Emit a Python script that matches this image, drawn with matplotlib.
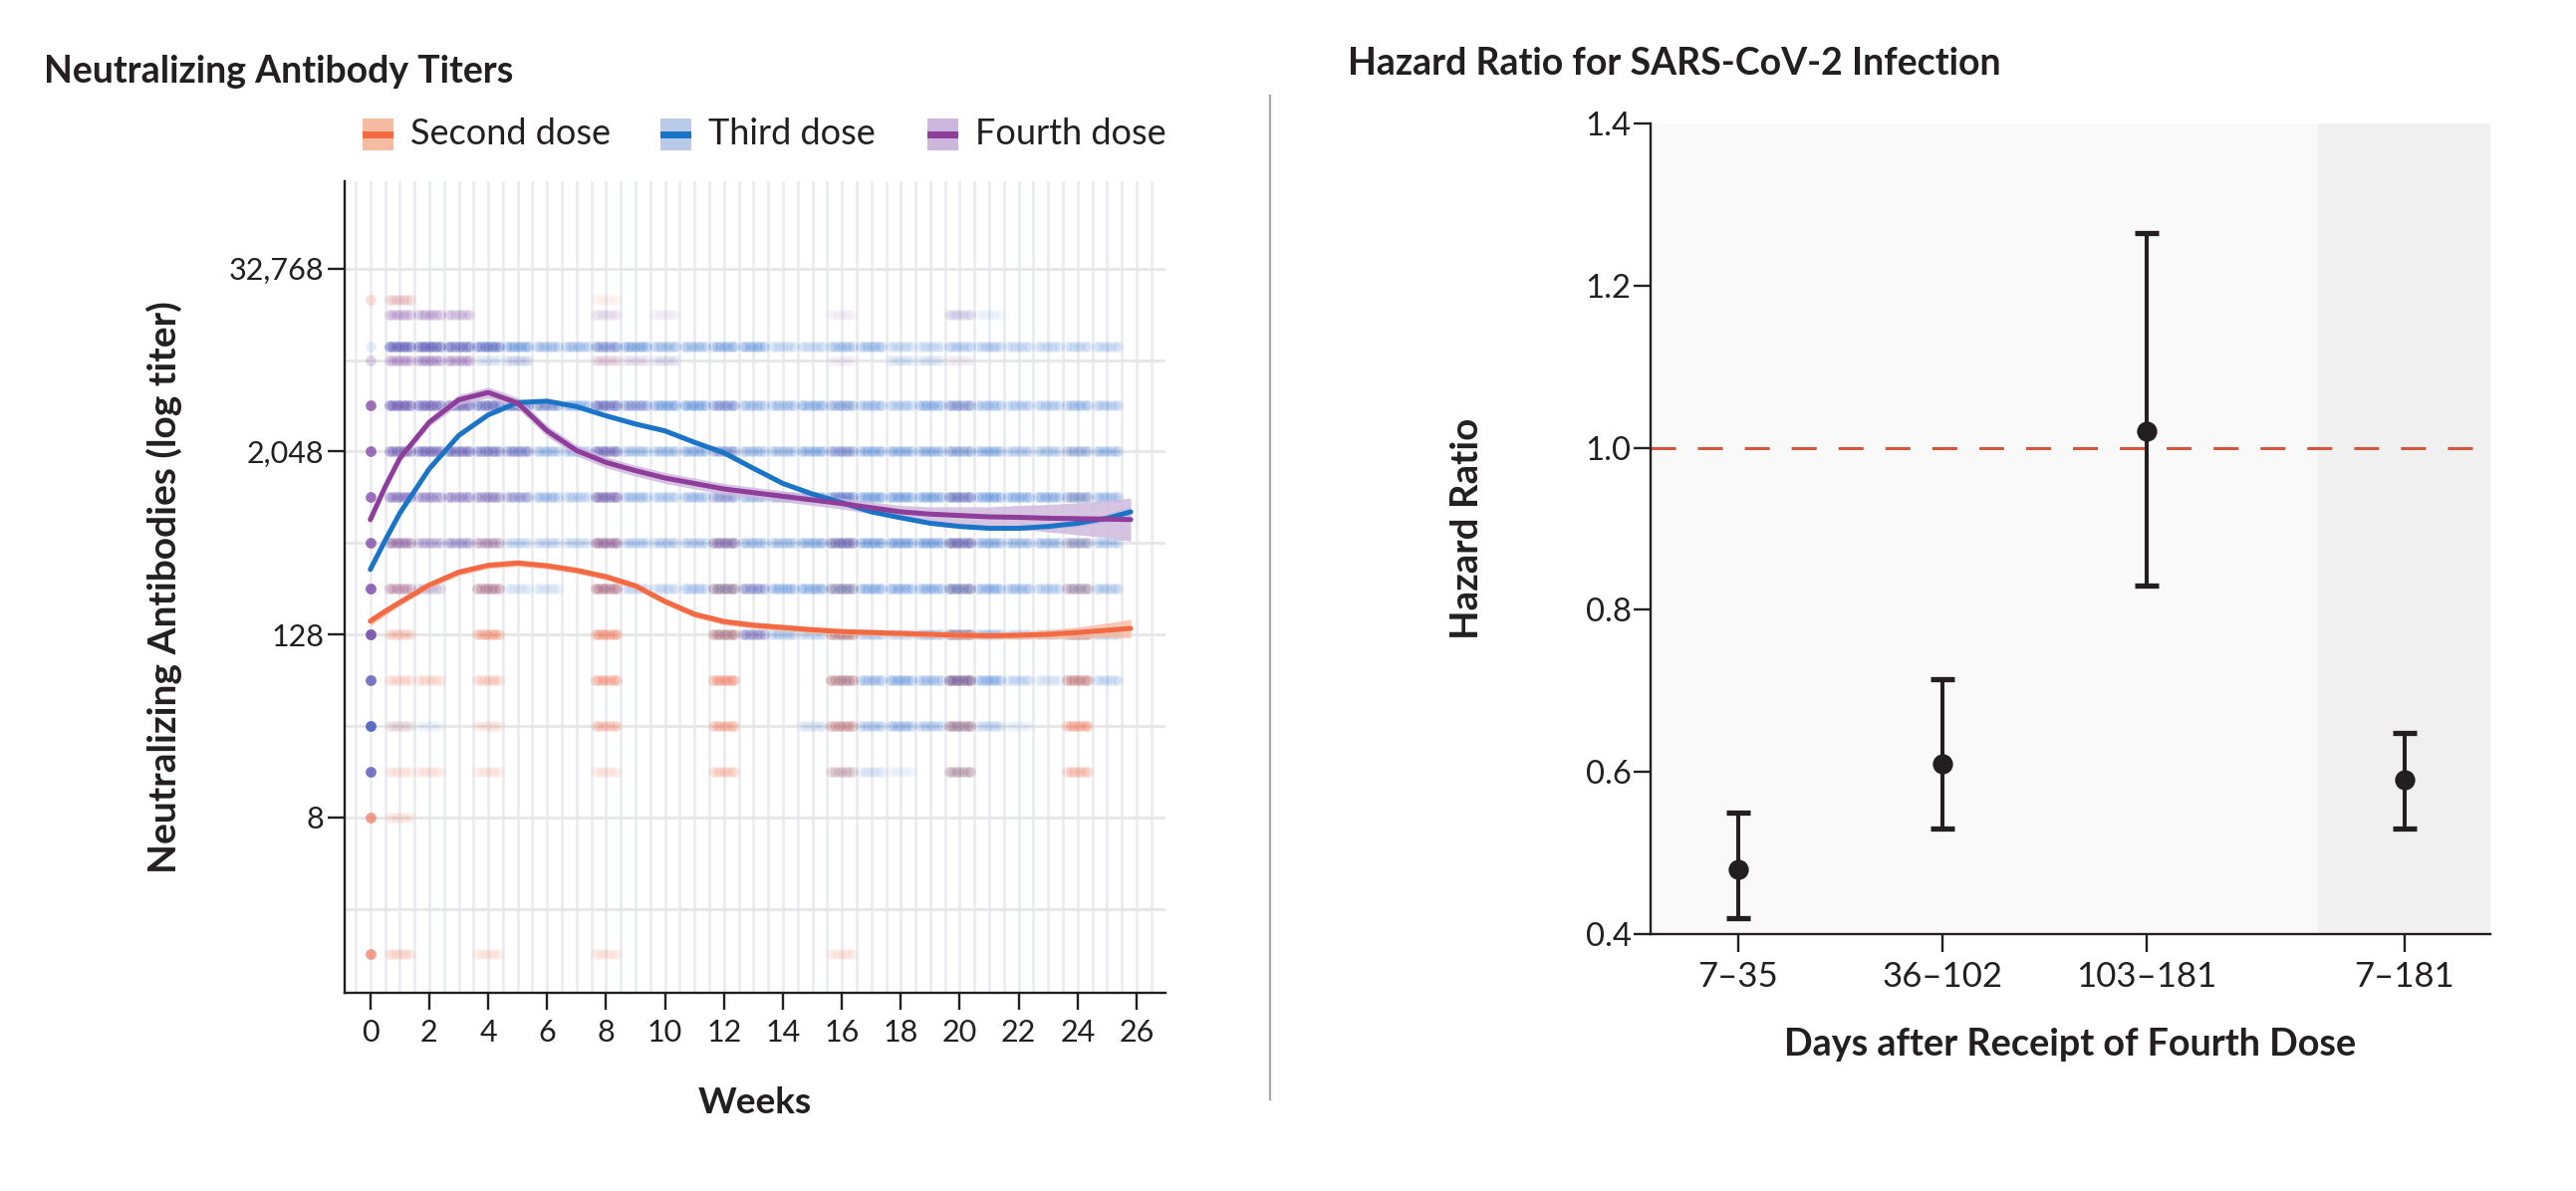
import numpy as np
import matplotlib
matplotlib.use("Agg")
import matplotlib.pyplot as plt
from matplotlib import font_manager as fm
from matplotlib.patches import Rectangle
from matplotlib.lines import Line2D

# ---------------- data ----------------
weeks = [0, 0.5, 1, 2, 3, 4, 5, 6, 7, 8, 9, 10, 11, 12, 13, 14, 15, 16, 17, 18,
         19, 20, 21, 22, 23, 24, 25, 25.8]

# smoothed titers, log2 scale
second_dose_log2 = [7.29, 7.50, 7.70, 8.08, 8.36, 8.51, 8.56, 8.50, 8.40, 8.26,
                    8.06, 7.72, 7.44, 7.28, 7.20, 7.15, 7.10, 7.06, 7.04, 7.02,
                    7.00, 6.98, 6.97, 6.98, 7.00, 7.04, 7.09, 7.13]
third_dose_log2 = [8.42, 9.05, 9.65, 10.62, 11.35, 11.80, 12.07, 12.10, 11.98, 11.78,
                   11.60, 11.45, 11.20, 10.97, 10.63, 10.30, 10.07, 9.88, 9.68, 9.55,
                   9.43, 9.36, 9.32, 9.32, 9.36, 9.43, 9.54, 9.68]
fourth_dose_log2 = [9.51, 10.22, 10.85, 11.64, 12.13, 12.29, 12.06, 11.45, 11.02, 10.76,
                    10.58, 10.42, 10.30, 10.18, 10.10, 10.02, 9.94, 9.86, 9.77, 9.68,
                    9.63, 9.60, 9.57, 9.56, 9.54, 9.53, 9.52, 9.51]

# half widths of the confidence bands (log2)
second_dose_ci = [0.10, 0.09, 0.07, 0.07, 0.07, 0.07, 0.07, 0.07, 0.07, 0.07,
                  0.07, 0.07, 0.07, 0.07, 0.07, 0.07, 0.07, 0.07, 0.07, 0.07,
                  0.07, 0.07, 0.07, 0.08, 0.10, 0.12, 0.16, 0.20]
third_dose_ci = [0.06, 0.05, 0.04, 0.04, 0.04, 0.04, 0.04, 0.04, 0.04, 0.04,
                 0.04, 0.04, 0.04, 0.04, 0.04, 0.04, 0.04, 0.04, 0.04, 0.04,
                 0.04, 0.04, 0.04, 0.05, 0.06, 0.08, 0.10, 0.12]
fourth_dose_ci = [0.10, 0.09, 0.08, 0.09, 0.11, 0.12, 0.12, 0.12, 0.12, 0.12,
                  0.12, 0.12, 0.12, 0.12, 0.12, 0.12, 0.12, 0.12, 0.13, 0.14,
                  0.16, 0.19, 0.22, 0.26, 0.30, 0.35, 0.41, 0.47]

# individual measurements: density (0-9) per titer level (log2) and week 0..25
dot_levels = [0, 3, 4, 5, 6, 7, 8, 9, 10, 11, 12, 13, 13.29, 14, 14.32]
second_dots = [
    "63002000200000002000000000",  # 0
    "62000000000000000000000000",  # 3
    "02202000200040004000500050",  # 4
    "02002000500060007000700070",  # 5
    "03304000700080008000800080",  # 6
    "04007000800080008000700070",  # 7
    "04006000700070005000500050",  # 8
    "03003000500040003000300030",  # 9
    "00001000200000000000200020",  # 10
    "00000000000000000000100010",  # 11
    "00000000000000001000100000",  # 12
    "00000000100000000000000000",  # 13
    "00000000000000000000000000",  # 13.29
    "00000000000000000000000000",  # 14
    "23000000100000000000000000",  # 14.32
]
third_dots = [
    "00000000000000000000000000",  # 0
    "00000000000000000000000000",  # 3
    "60000000000000002210300000",  # 4
    "81100000000000022454431000",  # 5
    "60000000000000003565663223",  # 6
    "50000000000034433435653333",  # 7
    "21102220233455666666765444",  # 8
    "02232333344455567777765554",  # 9
    "04334454554555668777776665",  # 10
    "05666655655665566666664455",  # 11
    "06667866767765566546654454",  # 12
    "00102200001000000022000000",  # 13
    "18878755675566335533443333",  # 13.29
    "00000000000000000000110000",  # 14
    "00000000000000000000000000",  # 14.32
]
fourth_dots = [
    "00000000000000000000000000",  # 0
    "00000000000000000000000000",  # 3
    "40000000000000000000000000",  # 4
    "30000000000000000000000000",  # 5
    "40000000000000000000200000",  # 6
    "70000000000004000000000000",  # 7
    "73302000200003000000000000",  # 8
    "75443000400030003000300000",  # 9
    "76554300500020002000200000",  # 10
    "76654300500020002000000000",  # 11
    "77654320420020000000100000",  # 12
    "26660100221000001000100000",  # 13
    "05543000200000000000000000",  # 13.29
    "05540000201000001000200000",  # 14
    "01000000000000000000000000",  # 14.32
]

y_ticks_log2 = [3, 7, 11, 15]
y_tick_labels = ["8", "128", "2,048", "32,768"]
x_ticks_weeks = list(range(0, 27, 2))
legend_labels = ["Second dose", "Third dose", "Fourth dose"]

hr_categories = ["7\u201335", "36\u2013102", "103\u2013181", "7\u2013181"]
hr_estimate = [0.48, 0.61, 1.02, 0.59]
hr_lower = [0.42, 0.53, 0.83, 0.53]
hr_upper = [0.55, 0.715, 1.265, 0.648]

# ---------------- styling ----------------
W, H, DPI = 2586, 1196, 200
names = {f.name for f in fm.fontManager.ttflist}
BASE = "Lato" if "Lato" in names else "DejaVu Sans"
plt.rcParams["font.family"] = [BASE, "DejaVu Sans"]
TXT = "#231f20"

line_colors = ["#f26a44", "#1b74c6", "#8f3d9a"]
band_colors = ["#f5bba3", "#b9cbe9", "#cdb6dc"]
dot_colors = ["#ef6a4a", "#2e6fd0", "#7b3fa0"]

fig = plt.figure(figsize=(W / DPI, H / DPI), dpi=DPI)


def fx(px):
    return px / W


def fy(py):
    return 1 - py / H


# ---------------- left panel ----------------
ax1 = fig.add_axes([fx(346), fy(997), (1170 - 346) / W, (997 - 182) / H])
ax1.set_xlim(-0.87, 26.98)
ax1.set_ylim(-0.84, 16.91)
for v in np.arange(-0.5, 27.01, 0.5):
    ax1.axvline(v, color="#eaedf0", lw=1.0, zorder=0)
for h in range(1, 17, 2):
    ax1.axhline(h, color="#e6e6e6", lw=1.0, zorder=0)

offsets = np.linspace(-0.36, 0.36, 7)
for dots, col in zip([second_dots, third_dots, fourth_dots], dot_colors):
    for lvl, row in zip(dot_levels, dots):
        for w, ch in enumerate(row):
            k = int(ch)
            if k == 0:
                continue
            if w == 0:
                xs = np.array([0.0])
                a = min(1.0, k / 9 * 0.95)
            else:
                xs = w + offsets
                a = k / 9 * 0.32
            ax1.scatter(xs, np.full(len(xs), lvl), s=15, color=col, alpha=a,
                        linewidths=0, zorder=1)

wk = np.array(weeks)
for ys, ci, lc, bc in zip([second_dose_log2, third_dose_log2, fourth_dose_log2],
                          [second_dose_ci, third_dose_ci, fourth_dose_ci],
                          line_colors, band_colors):
    ys = np.array(ys)
    ci = np.array(ci)
    ax1.fill_between(wk, ys - ci, ys + ci, color=bc, alpha=0.8, lw=0, zorder=2)
    ax1.plot(wk, ys, color=lc, lw=1.8, zorder=3, solid_capstyle="round",
             solid_joinstyle="round")

for s in ["top", "right"]:
    ax1.spines[s].set_visible(False)
for s in ["left", "bottom"]:
    ax1.spines[s].set_linewidth(0.85)
    ax1.spines[s].set_color(TXT)
ax1.set_yticks(y_ticks_log2, y_tick_labels)
ax1.set_xticks(x_ticks_weeks, [str(x) for x in x_ticks_weeks])
ax1.tick_params(axis="y", direction="out", length=6, width=0.85, labelsize=11,
                pad=1.5, colors=TXT)
ax1.tick_params(axis="x", direction="out", length=6, width=0.85, labelsize=11,
                pad=3.5, colors=TXT)

fig.text(fx(44), fy(83), "Neutralizing Antibody Titers", fontsize=13.5,
         fontweight="bold", color=TXT, ha="left", va="baseline")
fig.text(fx(165), fy(590), "Neutralizing Antibodies (log titer)", fontsize=14,
         fontweight="bold", color=TXT, rotation=90, ha="center", va="center")
fig.text(fx(758), fy(1108), "Weeks", fontsize=13.3, fontweight="bold",
         color=TXT, ha="center", va="center")

# legend
leg_x = [364, 663, 931]
for lx, lab, lc, bc in zip(leg_x, legend_labels, line_colors, band_colors):
    fig.add_artist(Rectangle((fx(lx), fy(151)), 31 / W, 32 / H,
                             transform=fig.transFigure, color=bc, lw=0))
    fig.add_artist(Rectangle((fx(lx), fy(139)), 31 / W, 7 / H,
                             transform=fig.transFigure, color=lc, lw=0))
    fig.text(fx(lx + 48), fy(145), lab, fontsize=13, color=TXT,
             ha="left", va="baseline")

# separator
fig.add_artist(Line2D([fx(1275), fx(1275)], [fy(96), fy(1104)],
                      color="#a6a6a6", lw=0.8, transform=fig.transFigure))

# ---------------- right panel ----------------
hr_pos = [0, 1, 2, 3.26]
ax2 = fig.add_axes([fx(1657), fy(938), (2500 - 1657) / W, (938 - 124) / H])
ax2.set_xlim(-0.429, 3.681)
ax2.set_ylim(0.4, 1.4)
ax2.set_facecolor("#f9f9f9")
ax2.axvspan(2.839, 3.681, color="#f0f0f0", lw=0, zorder=0)
ax2.axhline(1.0, color="#d4573b", lw=1.1, dashes=(8.2, 7.2), zorder=1)
est = np.array(hr_estimate)
lo = np.array(hr_lower)
hi = np.array(hr_upper)
ax2.errorbar(hr_pos, est, yerr=[est - lo, hi - est], fmt="o", color=TXT,
             ms=6.3, elinewidth=1.45, capsize=4.2, capthick=1.9, zorder=3)
for s in ["top", "right"]:
    ax2.spines[s].set_visible(False)
for s in ["left", "bottom"]:
    ax2.spines[s].set_linewidth(0.85)
    ax2.spines[s].set_color(TXT)
yt = [0.4, 0.6, 0.8, 1.0, 1.2, 1.4]
ax2.set_yticks(yt, [f"{v:.1f}" for v in yt])
ax2.set_xticks(hr_pos, hr_categories)
ax2.tick_params(axis="y", direction="out", length=6, width=0.85, labelsize=11.8,
                pad=1.0, colors=TXT)
ax2.tick_params(axis="x", direction="out", length=6.3, width=0.85, labelsize=12.5,
                pad=3.5, colors=TXT)

fig.text(fx(1353), fy(75), "Hazard Ratio for SARS-CoV-2 Infection", fontsize=13.5,
         fontweight="bold", color=TXT, ha="left", va="baseline")
fig.text(fx(1473), fy(531), "Hazard Ratio", fontsize=13.8, fontweight="bold",
         color=TXT, rotation=90, ha="center", va="center")
fig.text(fx(2078), fy(1060), "Days after Receipt of Fourth Dose", fontsize=13.6,
         fontweight="bold", color=TXT, ha="center", va="baseline")

fig.savefig("out.png", dpi=DPI)
